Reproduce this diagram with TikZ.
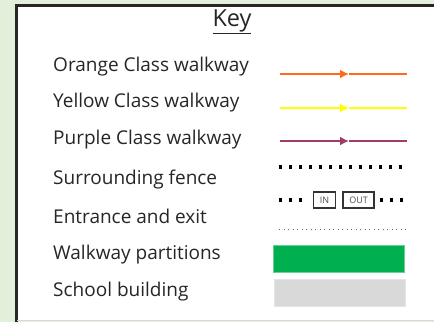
\documentclass[tikz,border=0pt]{standalone}
\usepackage{fontspec}
\setmainfont{Open Sans}
\usetikzlibrary{arrows.meta,positioning}
\definecolor{bggreen}{HTML}{E2EFDA}
\definecolor{orangewalk}{HTML}{FF6A1C}
\definecolor{yellowwalk}{HTML}{FFFF00}
\definecolor{purplewalk}{HTML}{9E3D6C}
\definecolor{partgreen}{HTML}{00B050}
\definecolor{buildgrey}{HTML}{D9D9D9}
\definecolor{labeltext}{HTML}{262626}
\begin{document}
\begin{tikzpicture}[x=1pt,y=-1pt,
 lbl/.style={anchor=west,inner sep=0pt,font=\fontsize{19}{22}\selectfont,text=labeltext},
 walk/.style={line width=2pt},
 fence/.style={line width=3.4pt,dash pattern=on 3.4pt off 6.6pt},
 gatebox/.style={draw=black!80,line width=1.6pt,inner sep=0pt,minimum height=16pt,font=\fontsize{9}{10}\selectfont,text=black!70},
 >={Latex[length=9pt,width=9pt]}]
\useasboundingbox (0,0) rectangle (434,322);
\fill[bggreen] (0,0) rectangle (434,322);
\fill[white] (16,5) rectangle (434,320.5);
\draw[black!85,line width=2.6pt] (16.3,322) -- (16.3,5.3) -- (434,5.3);
\draw[black!15,line width=1pt] (17,320.8) -- (434,320.8);
% title
\node[inner sep=0pt,font=\fontsize{23.5}{26}\selectfont,text=labeltext] (key) at (232,22) {\underline{Key}};
% labels
\node[lbl] (orange) at (53,67) {Orange Class walkway};
\node[lbl] (yellow) at (53,103) {Yellow Class walkway};
\node[lbl] (purple) at (53,140) {Purple Class walkway};
\node[lbl] (fencelbl) at (53,180) {Surrounding fence};
\node[lbl] (entrance) at (53,216) {Entrance and exit};
\node[lbl] (partition) at (53,255) {Walkway partitions};
\node[lbl] (building) at (53,292) {School building};
% walkways
\coordinate (o1) at (280,74); \coordinate (om) at (349,74); \coordinate (o2) at (407,74);
\coordinate (y1) at (280,108); \coordinate (ym) at (349,108); \coordinate (y2) at (407,108);
\coordinate (p1) at (280,141); \coordinate (pm) at (349,141); \coordinate (p2) at (407,141);
\draw[walk,orangewalk,->] (o1)--(om); \draw[walk,orangewalk] (om)--(o2);
\draw[walk,yellowwalk,->] (y1)--(ym); \draw[walk,yellowwalk] (ym)--(y2);
\draw[walk,purplewalk,->] (p1)--(pm); \draw[walk,purplewalk] (pm)--(p2);
% fence
\coordinate (f1) at (279,167); \coordinate (f2) at (405,167);
\draw[fence] (f1)--(f2);
% entrance and exit
\node[gatebox,minimum width=22pt] (in) at (324.5,200) {IN};
\node[gatebox,minimum width=31pt,right=6pt of in] (out) {OUT};
\coordinate (g1) at (279,200); \coordinate (g2) at (380,200);
\draw[fence] (g1)--(g1-|303,0);
\draw[fence] (g2)--(g2-|405,0);
\coordinate (d1) at (279,229); \coordinate (d2) at (407,229);
\draw[black!60,line width=1pt,dash pattern=on 1pt off 3.5pt] (d1)--(d2);
% partitions and building
\node[fill=partgreen,draw=partgreen!60,line width=0.4pt,minimum width=131pt,minimum height=27pt,inner sep=0pt] (green) at (338.5,258.5) {};
\node[fill=buildgrey,draw=buildgrey!70,line width=0.4pt,minimum width=131pt,minimum height=27pt,inner sep=0pt] (grey) at (339.5,292.5) {};
\end{tikzpicture}
\end{document}
